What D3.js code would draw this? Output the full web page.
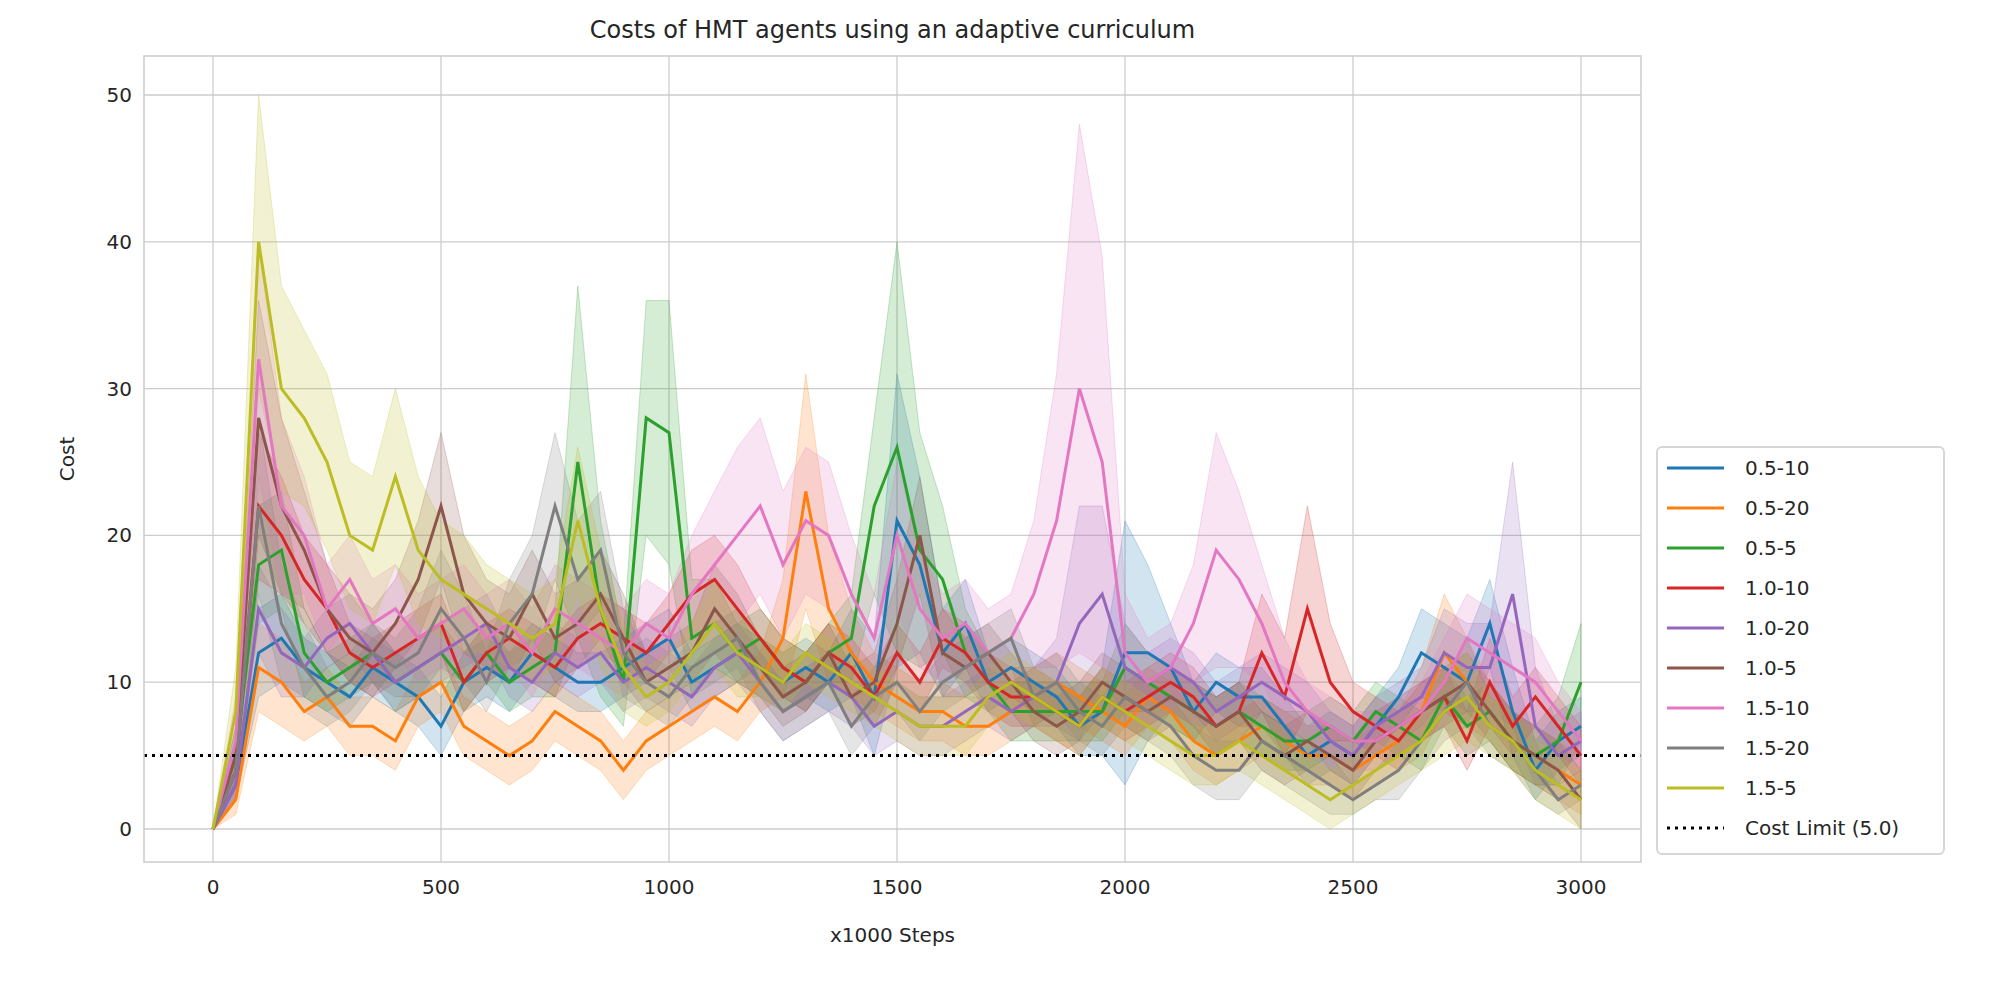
<!DOCTYPE html>
<html><head><meta charset="utf-8">
<script src="https://cdn.jsdelivr.net/npm/d3@7"></script>
<style>body{margin:0;background:#fff;font-family:"DejaVu Sans",Arial,sans-serif}</style>
</head><body><svg id="chart" width="2000" height="1000"></svg>
<script>
// x positions (x1000 steps), sampled every 50
const steps = d3.range(0, 3001, 50);
const seriesNames = ['0.5-10', '0.5-20', '0.5-5', '1.0-10', '1.0-20', '1.0-5', '1.5-10', '1.5-20', '1.5-5'];
const seriesColors = ['#1f77b4', '#ff7f0e', '#2ca02c', '#d62728', '#9467bd', '#8c564b', '#e377c2', '#7f7f7f', '#bcbd22'];

const mean0510 = [0,3,12,13,11,10,9,11,10,9,7,10,11,10,12,11,10,10,11,12,13,10,11,12,11,10,11,10,12,9,21,18,12,14,10,11,10,9,7,8,12,12,11,8,10,9,9,7,5,6,5,7,9,12,11,10,14,8,4,6,7];
const mean0520 = [0,2,11,10,8,9,7,7,6,9,10,7,6,5,6,8,7,6,4,6,7,8,9,8,10,13,23,15,12,10,9,8,8,7,7,8,9,10,9,8,7,9,8,6,5,6,7,6,5,5,4,5,6,8,12,10,8,6,5,4,3];
const mean055 = [0,5,18,19,12,10,11,12,10,11,12,10,12,10,11,12,25,15,10,28,27,13,14,12,13,11,10,12,13,22,26,19,17,12,10,8,8,8,8,8,11,10,9,8,7,8,7,6,6,7,6,8,7,6,9,7,8,6,5,6,10];
const mean1010 = [0,4,22,20,17,15,12,11,12,13,14,10,12,13,12,11,13,14,13,12,14,16,17,15,13,11,10,12,11,9,12,10,13,12,10,9,9,8,7,9,8,9,10,9,7,8,12,9,15,10,8,7,6,8,9,6,10,7,9,7,5];
const mean1020 = [0,3,15,12,11,13,14,12,10,11,12,13,14,11,10,12,11,12,10,11,10,9,11,12,10,8,9,10,9,7,8,7,7,8,9,8,9,10,14,16,11,10,11,10,8,9,10,9,8,6,5,7,8,9,12,11,11,16,7,5,6];
const mean105 = [0,5,28,22,19,15,13,12,14,17,22,16,14,13,16,13,14,16,13,10,11,12,15,13,11,9,10,12,9,10,14,20,12,11,12,10,8,7,8,10,9,8,9,8,7,8,6,5,6,5,4,6,7,8,9,10,8,6,5,4,2];
const mean1510 = [0,6,32,22,20,15,17,14,15,13,14,15,13,14,12,15,14,13,12,14,13,16,18,20,22,18,21,20,16,13,20,15,13,14,12,13,16,21,30,25,12,10,11,14,19,17,14,10,8,7,6,6,7,8,10,13,12,11,10,8,6];
const mean1520 = [0,4,22,14,11,9,10,12,11,12,15,13,10,14,16,22,17,19,12,10,9,11,12,13,10,8,9,10,7,9,10,8,10,11,12,13,9,10,8,7,9,8,7,5,4,4,6,5,4,3,2,3,4,6,8,10,7,6,4,2,3];
const mean155 = [0,8,40,30,28,25,20,19,24,19,17,16,15,14,13,14,21,15,11,9,10,12,14,12,11,10,12,11,10,9,8,7,7,7,9,10,9,8,7,9,8,7,6,5,5,6,5,4,3,2,3,4,5,6,8,9,7,6,4,3,2];

// half-width of the shaded band, same sampling
const spread0510 = [0,1,3,3,2,2,2,2,2,2,2,2,2,2,2,2,2,2,2,2,2,2,2,2,2,2,2,2,3,4,10,6,3,3,2,2,2,2,2,3,9,6,3,2,2,2,2,2,2,2,2,2,2,3,3,3,3,3,2,2,2];
const spread0520 = [0,1,3,3,2,2,2,2,2,2,2,2,2,2,2,2,2,2,2,2,2,2,2,2,2,4,8,5,3,2,2,2,2,2,2,2,2,2,2,2,2,2,2,2,2,2,2,2,2,2,2,2,2,3,4,3,2,2,2,2,2];
const spread055 = [0,2,4,4,3,2,2,2,2,2,2,2,2,2,2,3,12,6,3,8,9,4,3,2,2,2,2,2,3,6,14,8,5,3,2,2,2,2,2,2,3,2,2,2,2,2,2,2,2,2,2,2,2,2,2,2,2,2,2,3,4];
const spread1010 = [0,2,5,4,3,3,2,2,2,2,2,2,2,2,2,2,2,2,2,2,2,3,3,3,2,2,2,2,2,2,2,2,2,2,2,2,2,2,2,2,2,2,2,2,2,2,4,4,7,4,2,2,2,2,2,2,3,2,2,2,2];
const spread1020 = [0,1,3,3,2,2,2,2,2,2,2,2,2,2,2,2,2,2,2,2,2,2,2,2,2,2,2,2,2,2,2,2,2,2,2,2,2,3,8,6,3,2,2,2,2,2,2,2,2,2,2,2,2,2,3,3,3,9,4,2,2];
const spread105 = [0,2,8,6,4,3,3,3,3,4,5,4,3,3,3,3,3,3,3,2,2,2,3,3,2,2,2,2,2,2,3,4,3,2,2,2,2,2,2,2,2,2,2,2,2,2,2,2,2,2,2,2,2,2,2,2,2,2,2,2,2];
const spread1510 = [0,3,8,6,4,3,3,3,3,3,3,3,3,3,3,3,3,3,3,3,3,4,5,6,6,5,5,5,4,3,5,4,3,3,3,3,5,10,18,14,4,3,3,4,8,6,4,3,2,2,2,2,2,2,3,3,3,3,3,2,2];
const spread1520 = [0,2,6,4,3,2,2,2,2,3,4,3,2,3,4,5,4,4,3,2,2,2,2,2,2,2,2,2,2,2,2,2,2,2,2,2,2,2,2,2,2,2,2,2,2,2,2,2,2,2,1,1,2,2,2,3,2,2,2,1,1];
const spread155 = [0,3,10,7,6,6,5,5,6,5,4,4,3,3,3,3,5,4,3,2,2,2,3,3,2,2,2,2,2,2,2,2,2,2,2,2,2,2,2,2,2,2,2,2,2,2,2,2,2,2,2,2,2,2,3,3,2,2,2,2,2];

const means = [mean0510, mean0520, mean055, mean1010, mean1020, mean105, mean1510, mean1520, mean155];
const spreads = [spread0510, spread0520, spread055, spread1010, spread1020, spread105, spread1510, spread1520, spread155];
const xTicks = [0, 500, 1000, 1500, 2000, 2500, 3000];
const yTicks = [0, 10, 20, 30, 40, 50];
const costLimit = 5.0;

const svg = d3.select('#chart');
const plotLeft = 144, plotRight = 1641, plotTop = 56, plotBottom = 862;
const x = d3.scaleLinear().domain([0, 3000]).range([213, 1581]);
const y = d3.scaleLinear().domain([0, 50]).range([829, 95]);

// grid
svg.append('g').selectAll('line').data(xTicks).join('line')
  .attr('x1', d => x(d)).attr('x2', d => x(d)).attr('y1', plotTop).attr('y2', plotBottom)
  .attr('stroke', '#cccccc').attr('stroke-width', 1.3);
svg.append('g').selectAll('line').data(yTicks).join('line')
  .attr('x1', plotLeft).attr('x2', plotRight).attr('y1', d => y(d)).attr('y2', d => y(d))
  .attr('stroke', '#cccccc').attr('stroke-width', 1.3);

const area = d3.area().x((d, i) => x(steps[i])).y0(d => y(d[0])).y1(d => y(d[1]));
const line = d3.line().x((d, i) => x(steps[i])).y(d => y(d));

means.forEach((m, k) => {
  svg.append('path')
    .datum(m.map((v, i) => [Math.max(0, v - spreads[k][i]), v + spreads[k][i]]))
    .attr('d', area)
    .attr('fill', seriesColors[k]).attr('fill-opacity', 0.2)
    .attr('stroke', seriesColors[k]).attr('stroke-opacity', 0.25);
});
means.forEach((m, k) => {
  svg.append('path').datum(m).attr('d', line)
    .attr('fill', 'none').attr('stroke', seriesColors[k]).attr('stroke-width', 3);
});

svg.append('line')
  .attr('x1', plotLeft).attr('x2', plotRight).attr('y1', y(costLimit)).attr('y2', y(costLimit))
  .attr('stroke', '#000').attr('stroke-width', 3).attr('stroke-dasharray', '3,5');

// frame
svg.append('rect').attr('x', plotLeft).attr('y', plotTop).attr('width', plotRight - plotLeft).attr('height', plotBottom - plotTop)
  .attr('fill', 'none').attr('stroke', '#cccccc').attr('stroke-width', 1.5);

// tick labels
svg.append('g').selectAll('text').data(xTicks).join('text')
  .attr('x', d => x(d)).attr('y', plotBottom + 32).attr('text-anchor', 'middle')
  .attr('font-size', 20).attr('fill', '#262626').text(d => d);
svg.append('g').selectAll('text').data(yTicks).join('text')
  .attr('x', plotLeft - 12).attr('y', d => y(d) + 7).attr('text-anchor', 'end')
  .attr('font-size', 20).attr('fill', '#262626').text(d => d);

svg.append('text').attr('x', (plotLeft + plotRight) / 2).attr('y', 942).attr('text-anchor', 'middle')
  .attr('font-size', 20).attr('fill', '#262626').text('x1000 Steps');
svg.append('text').attr('transform', `translate(74,${(plotTop + plotBottom) / 2}) rotate(-90)`)
  .attr('text-anchor', 'middle').attr('font-size', 20).attr('fill', '#262626').text('Cost');
svg.append('text').attr('x', (plotLeft + plotRight) / 2).attr('y', 38).attr('text-anchor', 'middle')
  .attr('font-size', 24).attr('fill', '#262626').text('Costs of HMT agents using an adaptive curriculum');

// legend
const lg = svg.append('g').attr('transform', 'translate(1657,447)');
lg.append('rect').attr('width', 287).attr('height', 407).attr('rx', 5)
  .attr('fill', '#fff').attr('stroke', '#d6d6d6').attr('stroke-width', 2);
const items = seriesNames.map((n, i) => ({ name: n, color: seriesColors[i], dash: null }))
  .concat([{ name: 'Cost Limit (5.0)', color: '#000', dash: '3,5' }]);
items.forEach((it, i) => {
  const yy = 21 + i * 40;
  lg.append('line').attr('x1', 10).attr('x2', 67).attr('y1', yy).attr('y2', yy)
    .attr('stroke', it.color).attr('stroke-width', 3).attr('stroke-dasharray', it.dash);
  lg.append('text').attr('x', 88).attr('y', yy + 7).attr('font-size', 20)
    .attr('fill', '#262626').text(it.name);
});
</script></body></html>
